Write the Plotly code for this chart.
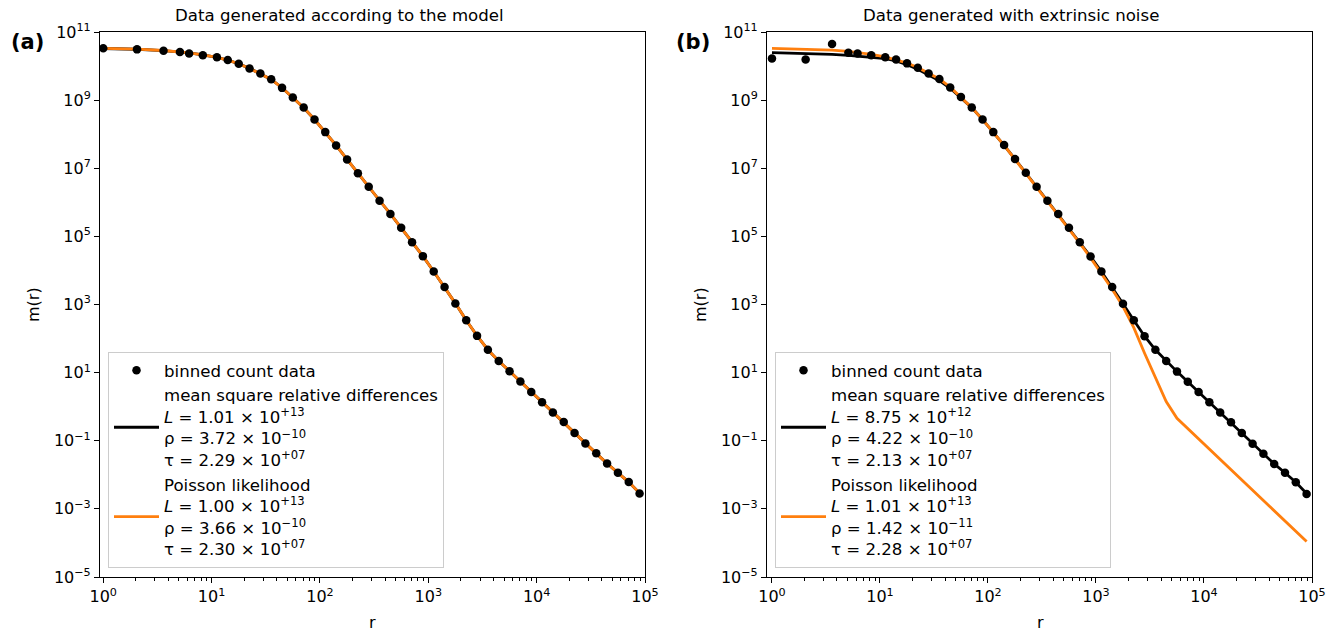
import plotly.graph_objects as go

# bin centres (r) shared by both panels
r_bins = [1.0, 2.05, 3.6, 5.1, 6.2, 8.3,
          11.2, 14.1, 17.8, 22.4, 28.2, 35.5, 44.7, 56.2, 70.8, 89.1,
          112, 141, 178, 224, 282, 355, 447, 562, 708, 891,
          1122, 1413, 1778, 2239, 2818, 3548, 4467, 5623, 7079, 8913,
          11220, 14125, 17783, 22387, 28184, 35481, 44668, 56234, 70795, 89125]

# panel (a): data generated according to the model
counts_a = [3.31e10, 3.09e10, 2.82e10, 2.57e10, 2.34e10, 2.09e10,
            1.82e10, 1.51e10, 1.17e10, 8.51e9, 6.03e9, 4.07e9, 2.29e9, 1.20e9, 6.03e8, 2.69e8,
            1.15e8, 4.68e7, 1.82e7, 7.08e6, 2.88e6, 1.12e6, 4.57e5, 1.78e5, 6.76e4, 2.63e4,
            9.33e3, 3.24e3, 1.07e3, 347, 120, 46.8, 21.9, 11.0, 5.50, 2.69,
            1.35, 0.676, 0.355, 0.170, 0.0832, 0.0427, 0.0214, 0.0115, 0.00617, 0.00282]
msrd_a = [3.28e10, 3.12e10, 2.85e10, 2.60e10, 2.43e10, 2.12e10,
          1.80e10, 1.50e10, 1.17e10, 8.55e9, 6.00e9, 4.05e9, 2.31e9, 1.20e9, 6.00e8, 2.70e8,
          1.14e8, 4.70e7, 1.83e7, 7.10e6, 2.86e6, 1.13e6, 4.55e5, 1.78e5, 6.80e4, 2.62e4,
          9.30e3, 3.25e3, 1.08e3, 345, 121, 47.0, 21.8, 11.0, 5.45, 2.70,
          1.35, 0.675, 0.352, 0.171, 0.0830, 0.0426, 0.0215, 0.0114, 0.00610, 0.00290]
poisson_a = [3.30e10, 3.14e10, 2.86e10, 2.61e10, 2.43e10, 2.12e10,
             1.80e10, 1.50e10, 1.17e10, 8.52e9, 6.00e9, 4.06e9, 2.30e9, 1.20e9, 6.02e8, 2.70e8,
             1.14e8, 4.70e7, 1.83e7, 7.10e6, 2.86e6, 1.13e6, 4.55e5, 1.78e5, 6.78e4, 2.62e4,
             9.30e3, 3.24e3, 1.08e3, 346, 121, 47.0, 21.8, 11.0, 5.46, 2.70,
             1.35, 0.675, 0.352, 0.171, 0.0830, 0.0426, 0.0215, 0.0114, 0.00610, 0.00290]

# panel (b): data generated with extrinsic noise
counts_b = [1.66e10, 1.55e10, 4.47e10, 2.45e10, 2.34e10, 2.09e10,
            1.82e10, 1.55e10, 1.20e10, 8.91e9, 6.03e9, 4.17e9, 2.34e9, 1.23e9, 6.03e8, 2.69e8,
            1.15e8, 4.79e7, 1.86e7, 7.41e6, 2.88e6, 1.12e6, 4.57e5, 1.78e5, 6.76e4, 2.57e4,
            9.33e3, 3.24e3, 1.05e3, 347, 117, 46.8, 21.9, 10.7, 5.37, 2.69,
            1.35, 0.676, 0.347, 0.170, 0.0813, 0.0417, 0.0209, 0.0115, 0.00603, 0.00275]
msrd_b = [2.47e10, 2.37e10, 2.21e10, 2.07e10, 1.97e10, 1.85e10,
          1.65e10, 1.41e10, 1.10e10, 8.02e9, 5.47e9, 3.72e9, 2.22e9, 1.18e9, 6.03e8, 2.69e8,
          1.15e8, 4.68e7, 1.86e7, 7.24e6, 2.88e6, 1.12e6, 4.57e5, 1.78e5, 6.76e4, 2.57e4,
          9.33e3, 3.24e3, 1.05e3, 347, 117, 46.8, 21.9, 10.7, 5.37, 2.69,
          1.35, 0.676, 0.347, 0.170, 0.0813, 0.0417, 0.0209, 0.0115, 0.00603, 0.00282]
poisson_b = [3.31e10, 3.16e10, 2.95e10, 2.69e10, 2.51e10, 2.19e10,
             1.86e10, 1.55e10, 1.23e10, 9.12e9, 6.17e9, 4.17e9, 2.40e9, 1.23e9, 6.03e8, 2.69e8,
             1.15e8, 4.68e7, 1.82e7, 7.08e6, 2.82e6, 1.10e6, 4.37e5, 1.66e5, 6.31e4, 2.34e4,
             8.32e3, 2.82e3, 871, 209, 37.2, 6.92, 1.41, 0.457, 0.229, 0.115,
             0.0562, 0.0282, 0.0141, 0.00708, 0.00355, 0.00178, 8.71e-4, 4.37e-4, 2.19e-4, 1.10e-4]

# fitted parameters shown in the legends
fit_a = {"msrd": ("1.01", "+13", "3.72", "\u221210", "2.29", "+07"),
         "poisson": ("1.00", "+13", "3.66", "\u221210", "2.30", "+07")}
fit_b = {"msrd": ("8.75", "+12", "4.22", "\u221210", "2.13", "+07"),
         "poisson": ("1.01", "+13", "1.42", "\u221211", "2.28", "+07")}

# tick labels
x_tick_vals = [1, 10, 100, 1000, 10000, 100000]
x_tick_text = ["10<sup>0</sup>", "10<sup>1</sup>", "10<sup>2</sup>",
               "10<sup>3</sup>", "10<sup>4</sup>", "10<sup>5</sup>"]
y_tick_vals = [1e-5, 1e-3, 1e-1, 1e1, 1e3, 1e5, 1e7, 1e9, 1e11]
y_tick_text = ["10<sup>\u22125</sup>", "10<sup>\u22123</sup>", "10<sup>\u22121</sup>",
               "10<sup>1</sup>", "10<sup>3</sup>", "10<sup>5</sup>", "10<sup>7</sup>",
               "10<sup>9</sup>", "10<sup>11</sup>"]
x_minor_vals = [m * 10 ** e for e in range(5) for m in range(2, 10)]

FONT = "DejaVu Sans"
BLACK = "#000000"
ORANGE = "#ff7f0e"
W, H = 1343, 632
ML, MR, MT, MB = 100, 31, 32, 55
TICK_SIZE = 16
TEXT_SIZE = 16.6


def legend_label(name, p):
    L, Le, rho, rhoe, tau, taue = p
    return (f"{name}<br><i>L</i> = {L} \u00d7 10<sup>{Le}</sup>"
            f"<br>\u03c1 = {rho} \u00d7 10<sup>{rhoe}</sup>"
            f"<br>\u03c4 = {tau} \u00d7 10<sup>{taue}</sup>")


fig = go.Figure()

panels = [("x", "y", "legend", counts_a, msrd_a, poisson_a, fit_a),
          ("x2", "y2", "legend2", counts_b, msrd_b, poisson_b, fit_b)]
for xa, ya, lg, counts, msrd, poisson, fit in panels:
    fig.add_trace(go.Scatter(
        x=r_bins, y=msrd, mode="lines", xaxis=xa, yaxis=ya, legend=lg,
        line=dict(color=BLACK, width=2.8), legendrank=2,
        name=legend_label("mean square relative differences", fit["msrd"])))
    fig.add_trace(go.Scatter(
        x=r_bins, y=poisson, mode="lines", xaxis=xa, yaxis=ya, legend=lg,
        line=dict(color=ORANGE, width=2.8), legendrank=3,
        name=legend_label("Poisson likelihood", fit["poisson"])))
    fig.add_trace(go.Scatter(
        x=r_bins, y=counts, mode="markers", xaxis=xa, yaxis=ya, legend=lg,
        marker=dict(color=BLACK, size=8.5), legendrank=1,
        name="binned count data"))

pw = W - ML - MR
ph = H - MT - MB


def px_x(p):
    return (p - ML) / pw


def px_y(p):
    return (H - MB - p) / ph


axis_common = dict(type="log", showgrid=False, zeroline=False, showline=True,
                   linecolor=BLACK, linewidth=1.1, mirror=True, ticks="outside",
                   ticklen=5, tickwidth=1.1, tickcolor=BLACK,
                   tickfont=dict(family=FONT, size=TICK_SIZE, color=BLACK))

xaxis = dict(axis_common, range=[-0.03, 5.0], tickmode="array",
             tickvals=x_tick_vals, ticktext=x_tick_text,
             minor=dict(tickmode="array", tickvals=x_minor_vals, ticks="outside",
                        ticklen=3, tickwidth=0.9, tickcolor=BLACK, showgrid=False))
yaxis = dict(axis_common, range=[-5, 11], tickmode="array",
             tickvals=y_tick_vals, ticktext=y_tick_text)

legend_style = dict(xanchor="left", yanchor="bottom",
                    bgcolor="rgba(255,255,255,0.8)", bordercolor="#cccccc", borderwidth=1,
                    font=dict(family=FONT, size=TEXT_SIZE, color=BLACK), itemwidth=45,
                    traceorder="normal", valign="middle")

fig.update_layout(
    width=W, height=H,
    margin=dict(l=ML, r=MR, t=MT, b=MB, pad=0),
    paper_bgcolor="white", plot_bgcolor="white",
    font=dict(family=FONT, size=TEXT_SIZE, color=BLACK),
    xaxis=dict(xaxis, domain=[0, px_x(645)], anchor="y"),
    yaxis=dict(yaxis, domain=[0, 1], anchor="x"),
    xaxis2=dict(xaxis, domain=[px_x(767), 1], anchor="y2", range=[-0.046, 5.0]),
    yaxis2=dict(yaxis, domain=[0, 1], anchor="x2"),
    legend=dict(legend_style, x=px_x(108), y=px_y(568)),
    legend2=dict(legend_style, x=px_x(775), y=px_y(568)),
    showlegend=True,
)

annotations = [
    dict(text="Data generated according to the model", x=px_x(339), y=px_y(15),
         font=dict(size=TEXT_SIZE)),
    dict(text="Data generated with extrinsic noise", x=px_x(1011), y=px_y(15),
         font=dict(size=TEXT_SIZE)),
    dict(text="<b>(a)</b>", x=px_x(27.5), y=px_y(42), font=dict(size=21)),
    dict(text="<b>(b)</b>", x=px_x(692.5), y=px_y(42), font=dict(size=21)),
    dict(text="m(r)", x=px_x(33), y=px_y(305), textangle=-90, font=dict(size=TICK_SIZE)),
    dict(text="m(r)", x=px_x(700), y=px_y(305), textangle=-90, font=dict(size=TICK_SIZE)),
    dict(text="r", x=px_x(372), y=px_y(622), font=dict(size=TICK_SIZE)),
    dict(text="r", x=px_x(1040), y=px_y(622), font=dict(size=TICK_SIZE)),
]
for a in annotations:
    a.update(xref="paper", yref="paper", showarrow=False,
             xanchor="center", yanchor="middle")
    a["font"] = dict(family=FONT, color=BLACK, **a["font"])
fig.update_layout(annotations=annotations)

fig.write_html("out.html")
